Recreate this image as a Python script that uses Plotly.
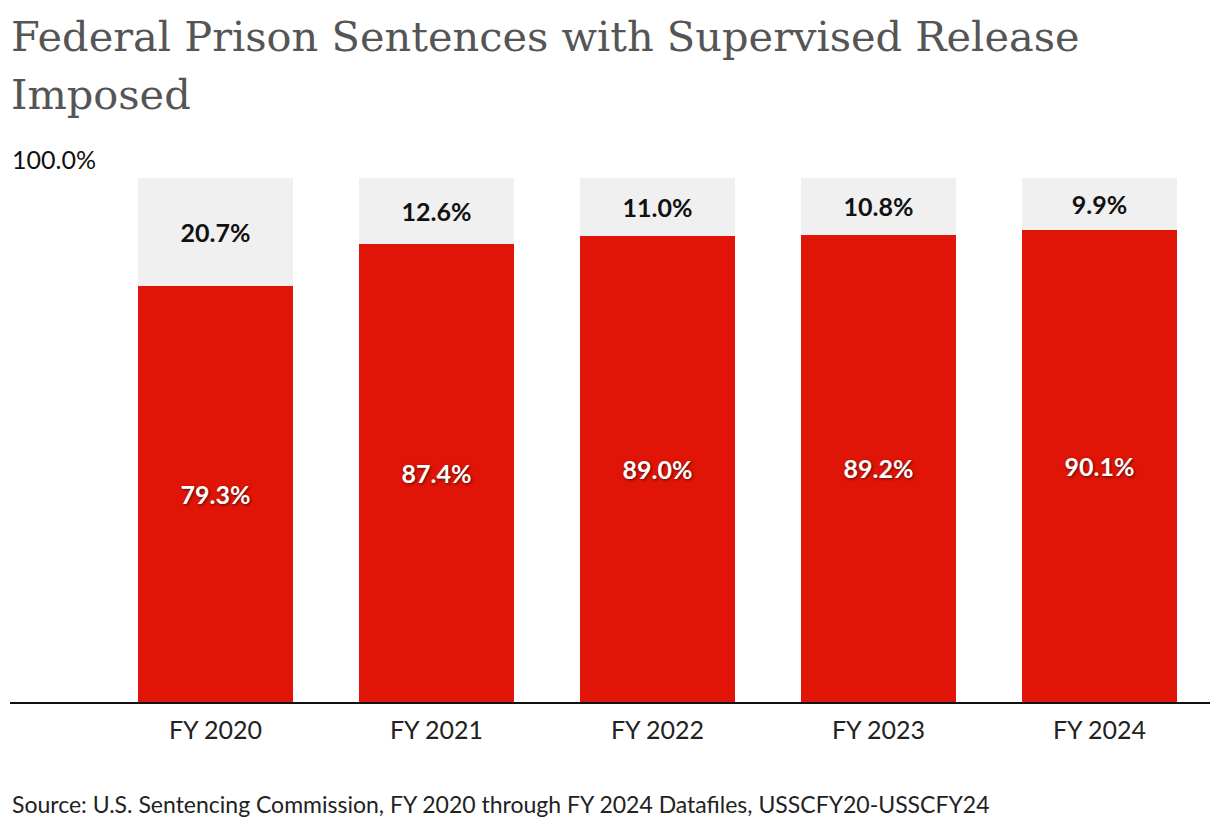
import plotly.graph_objects as go

years = ["FY 2020", "FY 2021", "FY 2022", "FY 2023", "FY 2024"]
with_release = [79.3, 87.4, 89.0, 89.2, 90.1]
without_release = [20.7, 12.6, 11.0, 10.8, 9.9]

title_lines = ["Federal Prison Sentences with Supervised Release", "Imposed"]

red = "#E01507"
light = "#F0F0F0"
xpos = list(range(len(years)))

fig = go.Figure()

fig.add_trace(go.Bar(
    x=xpos, y=with_release, width=0.7,
    marker=dict(color=red, line=dict(width=0)),
    text=[f"{v:.1f}%" for v in with_release],
    textposition="inside", insidetextanchor="middle",
    textfont=dict(family="Lato", size=25, color="white", weight="bold",
                  shadow="1px 1px 3px rgba(0,0,0,0.6)"),
    hoverinfo="skip", name="Supervised release",
))
fig.add_trace(go.Bar(
    x=xpos, y=without_release, width=0.7,
    marker=dict(color=light, line=dict(width=0)),
    text=[f"{v:.1f}%" for v in without_release],
    textposition="inside", insidetextanchor="middle",
    textfont=dict(family="Lato", size=25, color="#111111", weight="bold"),
    hoverinfo="skip", name="No supervised release",
))

# page body adds an 8px margin, so the figure is a bit smaller than the window
fig.update_layout(
    barmode="stack",
    width=1204, height=814, autosize=False,
    margin=dict(l=2, r=2, t=170, b=120),
    plot_bgcolor="white", paper_bgcolor="white",
    showlegend=False,
    uniformtext=dict(mode=False),
    font=dict(family="Lato", color="#222222"),
)

fig.update_xaxes(
    range=[-0.93, 4.5],
    tickvals=xpos, ticktext=years,
    tickfont=dict(family="Lato", size=25, color="#222222"),
    ticklabelstandoff=5,
    showgrid=False, ticks="", showline=True, linecolor="#111111", linewidth=2,
    fixedrange=True,
)
fig.update_yaxes(
    range=[0, 100], tickvals=[100], showticklabels=False,
    showgrid=True, gridcolor="#E3E3E3", gridwidth=2,
    zeroline=False, showline=False, fixedrange=True,
)

# title, one annotation per line to control line spacing
for i, line in enumerate(title_lines):
    fig.add_annotation(
        text=line,
        xref="paper", yref="paper", x=0, y=1, xshift=-1, yshift=168 - 58 * i,
        xanchor="left", yanchor="top", align="left", showarrow=False,
        font=dict(family="DejaVu Serif", size=41.5, color="#555555"),
    )
# top axis label
fig.add_annotation(
    text="100.0%", xref="paper", yref="y", x=0, y=100, yshift=2,
    xanchor="left", yanchor="bottom", showarrow=False,
    font=dict(family="Lato", size=25, color="#111111"),
)
# source
fig.add_annotation(
    text="Source: U.S. Sentencing Commission, FY 2020 through FY 2024 Datafiles, USSCFY20-USSCFY24",
    xref="paper", yref="paper", x=0, y=0, yshift=-86,
    xanchor="left", yanchor="top", showarrow=False,
    font=dict(family="Lato", size=23, color="#222222"),
)

fig.write_html("out.html", config={"displayModeBar": False})
